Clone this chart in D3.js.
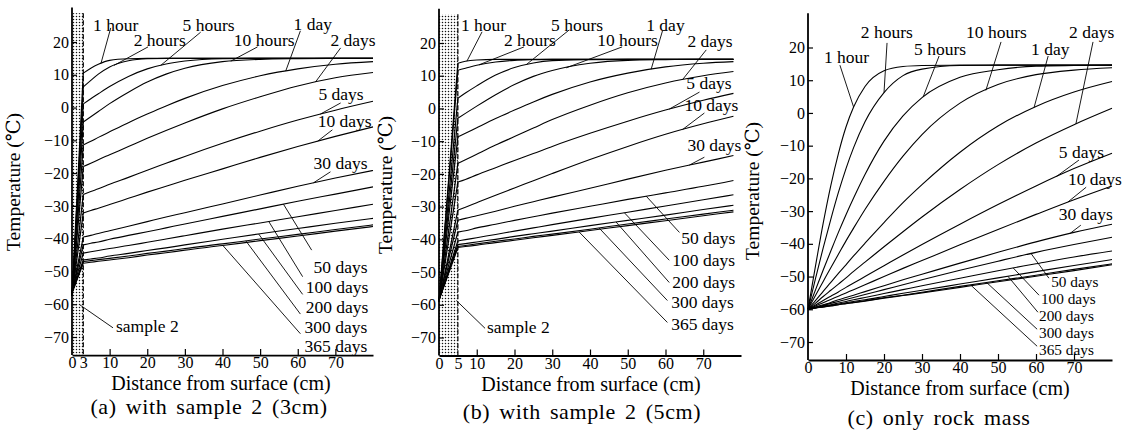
<!DOCTYPE html>
<html><head><meta charset="utf-8">
<script src="https://cdn.jsdelivr.net/npm/d3@7"></script>
<style>
body{margin:0;background:#fff;}
svg{display:block;font-family:"Liberation Serif","DejaVu Serif",serif;}
</style></head><body>
<svg id="chart" width="1134" height="440"></svg>
<script>
// ---------------- DATA ----------------
const seriesNames = ["1 hour","2 hours","5 hours","10 hours","1 day","2 days","5 days","10 days","30 days","50 days","100 days","200 days","300 days","365 days"];
const yTickValues = [20,10,0,-10,-20,-30,-40,-50,-60,-70];
const xTickLabelsA = [0,3,10,20,30,40,50,60,70];
const xTickLabelsB = [0,5,10,20,30,40,50,60,70];
const xTickLabelsC = [0,10,20,30,40,50,60,70];
const captions = ["(a) with sample 2 (3cm)","(b) with sample 2 (5cm)","(c) only rock mass"];
const xTitle = "Distance from surface (cm)";
const yTitle = "Temperature (℃)";
const sampleLabel = "sample 2";

// (a) sample 2, 3 cm — depth (cm) and temperature (°C)
const depthA = [0,3,5,7,10,15,20,25,30,40,50,60,70,80];
const tempsA = [
  [-57.5,10.5,12.0,13.2,14.4,14.9,15,15,15,15,15,15,15,15],
  [-57.5,6.3,8.3,10.2,12.4,14.3,14.9,15,15,15,15,15,15,15],
  [-57.5,1.1,2.7,4.2,6.4,9.5,11.8,13.3,14.2,14.9,15,15,15,15],
  [-57.5,-4.4,-2.8,-1.2,1.2,4.7,7.8,10.2,12.0,14.0,14.7,14.9,15,15],
  [-57.5,-11.4,-10.3,-9.1,-7.4,-4.6,-2.0,0.5,2.8,6.7,9.7,11.8,13.2,14.0],
  [-57,-18,-17,-15.9,-14.4,-11.9,-9.4,-7.0,-4.7,-0.4,3.3,6.6,9.1,10.7],
  [-57,-26.5,-25.6,-24.8,-23.4,-21.3,-19.1,-17.0,-14.9,-10.9,-7.2,-3.8,-0.8,1.9],
  [-57,-32.2,-31.4,-30.7,-29.6,-27.7,-25.8,-24.0,-22.2,-18.7,-15.2,-11.9,-8.8,-5.9],
  [-56.5,-39.5,-39.0,-38.4,-37.6,-36.2,-34.8,-33.4,-32.1,-29.4,-26.7,-24.0,-21.5,-19.2],
  [-56.5,-41.9,-41.4,-41.0,-40.2,-39.0,-37.9,-36.7,-35.5,-33.2,-30.9,-28.6,-26.4,-24.2],
  [-56.5,-44.4,-44.0,-43.6,-43.0,-42.1,-41.1,-40.1,-39.1,-37.1,-35.2,-33.3,-31.4,-29.5],
  [-56.5,-46.5,-46.2,-45.9,-45.3,-44.5,-43.6,-42.8,-41.9,-40.2,-38.5,-36.9,-35.3,-33.8],
  [-56.5,-47.0,-46.7,-46.4,-46.0,-45.3,-44.5,-43.8,-43.0,-41.6,-40.1,-38.7,-37.2,-35.8],
  [-56.5,-47.5,-47.2,-46.9,-46.5,-45.8,-45.0,-44.3,-43.5,-42.1,-40.6,-39.2,-37.7,-36.3]
];

// (b) sample 2, 5 cm
const depthB = [0,5,7,10,15,20,25,30,40,50,60,70,78];
const tempsB = [
  [-59,13.8,14.4,14.8,15,15,15,15,15,15,15,15,15],
  [-59,11.7,12.3,13.2,14.2,14.7,14.9,15,15,15,15,15,15],
  [-59,3.1,4.7,6.9,10.2,12.5,13.9,14.6,14.9,15,15,15,15],
  [-59,-3.0,-1.5,0.7,4.2,7.3,9.8,11.6,13.8,14.7,14.9,15,15],
  [-59,-8.7,-7.6,-5.9,-3.1,-0.5,2.0,4.3,8.1,10.8,12.7,13.8,14.3],
  [-59,-16.8,-15.7,-14.0,-11.2,-8.6,-6.0,-3.4,1.0,4.8,7.8,10.0,11.3],
  [-59,-22.5,-21.7,-20.3,-18.1,-15.9,-13.8,-11.6,-7.6,-3.9,-0.5,2.5,4.6],
  [-59,-31.1,-30.2,-28.8,-26.5,-24.3,-22.1,-19.9,-15.6,-11.6,-7.9,-4.7,-2.4],
  [-58.5,-34.2,-33.6,-32.8,-31.4,-29.9,-28.5,-27.1,-24.4,-21.6,-18.9,-16.4,-14.4],
  [-58.5,-37.8,-37.4,-36.5,-35.4,-34.2,-33.1,-32.0,-29.9,-27.8,-25.8,-23.8,-22.0],
  [-58.5,-40.5,-40.1,-39.5,-38.5,-37.5,-36.5,-35.5,-33.6,-31.7,-29.8,-27.9,-26.4],
  [-58.5,-41.6,-41.3,-40.8,-40.0,-39.1,-38.3,-37.5,-35.8,-34.2,-32.6,-30.9,-29.6],
  [-58.5,-42.2,-41.9,-41.4,-40.6,-39.9,-39.1,-38.4,-36.9,-35.3,-33.8,-32.3,-31.1],
  [-58.5,-42.5,-42.2,-41.8,-41.0,-40.3,-39.5,-38.8,-37.3,-35.8,-34.3,-32.8,-31.6]
];

// (c) only rock mass
const depthC = [0,2,4,6,8,10,12,15,20,25,30,40,50,60,70,80];
const tempsC = [
  [-60,-46.6,-33.7,-22.2,-12.4,-4.3,1.8,8.1,12.9,14.2,14.5,14.6,14.6,14.6,14.6,14.6],
  [-60,-50.5,-41.2,-32.5,-24.3,-17.0,-10.6,-2.7,6.2,11.4,13.4,14.5,14.6,14.6,14.6,14.6],
  [-60,-54.0,-48.0,-42.2,-36.5,-31.1,-26.0,-18.8,-8.6,-0.9,4.7,10.9,13.2,14.3,14.5,14.6],
  [-60,-55.7,-51.5,-47.3,-43.2,-39.1,-35.2,-29.5,-20.9,-13.2,-6.6,3.0,8.7,11.7,13.1,13.8],
  [-60,-57.3,-54.5,-51.8,-49.0,-46.4,-43.7,-39.8,-33.5,-27.4,-21.9,-12.0,-4.0,2.0,6.4,9.6],
  [-60,-58.1,-56.1,-54.2,-52.3,-50.4,-48.4,-45.6,-40.9,-36.3,-31.8,-23.4,-15.8,-9.2,-3.6,1.4],
  [-60,-58.7,-57.3,-56.0,-54.7,-53.3,-52.0,-50.0,-46.7,-43.4,-40.2,-34.0,-28.0,-22.3,-17.0,-12.3],
  [-60,-59.0,-58.0,-57.0,-56.0,-55.0,-54.0,-52.5,-50.0,-47.5,-45.1,-40.3,-35.6,-31.0,-26.5,-22.3],
  [-60,-59.3,-58.6,-57.9,-57.1,-56.4,-55.7,-54.6,-52.8,-51.0,-49.3,-45.9,-42.6,-39.4,-36.5,-34.0],
  [-60,-59.4,-58.8,-58.2,-57.6,-57.0,-56.4,-55.5,-54.0,-52.5,-51.0,-48.1,-45.3,-42.6,-40.2,-38.0],
  [-60,-59.5,-59.0,-58.6,-58.1,-57.6,-57.1,-56.4,-55.2,-54.0,-52.8,-50.5,-48.2,-46.1,-44.0,-42.2],
  [-60,-59.6,-59.2,-58.8,-58.4,-58.0,-57.6,-57.1,-56.1,-55.1,-54.2,-52.3,-50.4,-48.5,-46.6,-44.8],
  [-60,-59.6,-59.3,-58.9,-58.6,-58.2,-57.9,-57.4,-56.5,-55.7,-54.8,-53.0,-51.3,-49.6,-47.8,-46.1],
  [-60,-59.6,-59.3,-59.0,-58.6,-58.3,-58.0,-57.5,-56.6,-55.8,-55.0,-53.3,-51.6,-49.9,-48.2,-46.4]
];

// ---------------- LAYOUT (annotation placement in data units: label x/y, pointer start x/y, pointer end x on curve) ----------------
const annA = [
  [5.6,23.4,10.3,24.3,7.7],[16.4,18.8,20.2,18.5,11.1],[29.4,23.4,34.2,23.0,23.6],[43.0,18.8,49.3,18.5,42.2],
  [58.9,23.7,60.7,23.4,56.8],[68.7,18.8,71.4,18.2,64.7],[65.5,2.3,71.4,1.4,66.0],[65.3,-5.9,69.2,-6.8,65.3],
  [64.2,-18.7,68.7,-19.6,64.2],[64.2,-50.6,63.7,-43.5,56.2],[62.1,-56.6,61.3,-51.6,52.3],[62.1,-62.8,61.3,-57.0,49.6],
  [61.8,-68.9,60.7,-63.0,46.2],[61.8,-74.7,60.7,-69.0,40.1]
];
const annB = [
  [5.8,23.7,11.4,23.4,7.4],[17.2,19.1,22.5,18.8,10.6],[29.7,23.7,34.5,24.0,23.1],[41.9,19.1,48.5,18.8,33.7],
  [54.9,23.7,59.2,23.7,56.2],[65.8,18.8,70.8,17.9,64.5],[65.5,5.9,69.0,5.0,61.0],[65.0,-0.8,70.3,-1.4,64.5],
  [65.8,-13.1,70.3,-14.9,66.3],[64.2,-41.5,63.7,-37.9,54.9],[61.8,-48.3,61.0,-46.4,49.1],[61.8,-55.0,61.0,-53.2,46.9],
  [61.5,-61.1,60.5,-58.7,42.4],[61.5,-67.8,60.5,-65.4,37.1]
];
const annC = [
  [4.2,15.3,8.4,14.6,12.0],[13.9,22.9,20.8,21.4,20.0],[27.9,17.7,34.5,17.4,30.3],[41.6,22.9,50.8,21.7,46.8],
  [58.7,17.7,63.2,17.4,59.5],[68.7,22.9,75.0,21.7,70.5],[66.0,-13.8,71.3,-14.4,65.3],[68.4,-22.0,73.2,-22.7,68.4],
  [66.0,-32.7,71.8,-34.3,69.0],[64.0,-53.2,63.4,-50.5,58.7],[61.3,-58.4,60.8,-55.7,54.0],[60.8,-63.6,60.5,-60.9,52.6],
  [60.8,-68.8,60.3,-66.1,47.0],[60.8,-74.0,60.3,-71.3,43.0]
];

const panels = [
  {x0:72, x80:373, py20:42, pym70:337, sample:3, depth:depthA, temps:tempsA, xticks:xTickLabelsA, ann:annA, lowFont:17.5,
   sampleAnn:[11.7,-68.5,10.9,-67.2,2.1,-60.2], yT:[20,182], xT:[221,390], cap:[209,414]},
  {x0:439, x80:741, py20:43, pym70:337.5, sample:5, depth:depthB, temps:tempsB, xticks:xTickLabelsB, ann:annB, lowFont:17.5,
   sampleAnn:[12.7,-68.7,12.2,-67.2,4.6,-58.7], yT:[392,185], xT:[591,391], cap:[582,419]},
  {x0:808, x80:1112, py20:47.5, pym70:342, sample:0, depth:depthC, temps:tempsC, xticks:xTickLabelsC, ann:annC, lowFont:15.3,
   sampleAnn:null, yT:[759,191], xT:[960,395], cap:[939,425]}
];

// ---------------- DRAW ----------------
const svg = d3.select("#chart");
const defs = svg.append("defs");
const pat = defs.append("pattern").attr("id","dots").attr("width",3).attr("height",3).attr("patternUnits","userSpaceOnUse");
pat.append("rect").attr("width",3).attr("height",3).attr("fill","#fff");
pat.append("circle").attr("cx",1.5).attr("cy",1.5).attr("r",0.75).attr("fill","#111");

const fmt = d => d < 0 ? "\u2212" + Math.abs(d) : String(d);

panels.forEach((p, pi) => {
  const x = d3.scaleLinear().domain([0,80]).range([p.x0,p.x80]);
  const y = d3.scaleLinear().domain([-70,20]).range([p.pym70,p.py20]);
  const yAx = d3.scaleLinear().domain([-75.5,30.5]).range([y(-75.5),y(30.5)]);
  const g = svg.append("g");

  // sample band
  if (p.sample > 0) {
    g.append("rect").attr("x",x(0)).attr("y",y(28.8)).attr("width",x(p.sample)-x(0)).attr("height",y(-75.5)-y(28.8))
      .attr("fill","url(#dots)");
    g.append("line").attr("x1",x(p.sample)).attr("x2",x(p.sample)).attr("y1",y(28.8)).attr("y2",y(-75.5))
      .attr("stroke","#000").attr("stroke-width",1.2).attr("stroke-dasharray","5,2");
  }

  // curves
  const lineRock = d3.line().x(d=>x(d[0])).y(d=>y(d[1])).curve(d3.curveMonotoneX);
  const lineLin = d3.line().x(d=>x(d[0])).y(d=>y(d[1]));
  p.temps.forEach(row => {
    const pts = p.depth.map((dd,i)=>[dd,row[i]]);
    if (p.sample > 0) {
      g.append("path").attr("d", lineLin(pts.filter(d=>d[0] <= p.sample)))
        .attr("fill","none").attr("stroke","#000").attr("stroke-width",1.2);
      g.append("path").attr("d", lineRock(pts.filter(d=>d[0] >= p.sample)))
        .attr("fill","none").attr("stroke","#000").attr("stroke-width",1.1);
    } else {
      g.append("path").attr("d", lineRock(pts)).attr("fill","none").attr("stroke","#000").attr("stroke-width",1.1);
    }
  });

  // axes
  const yAxis = d3.axisLeft(yAx).tickValues(yTickValues).tickFormat(fmt).tickSize(-5).tickSizeOuter(0).tickPadding(3);
  const gy = g.append("g").attr("transform",`translate(${x(0)},0)`).call(yAxis);
  const xAxis = d3.axisBottom(x.copy()).tickValues(p.xticks).tickFormat(d=>d).tickSize(-6).tickSizeOuter(0).tickPadding(2);
  const gx = g.append("g").attr("transform",`translate(0,${y(-75.5)})`).call(xAxis);
  [gy,gx].forEach(ax => {
    ax.attr("font-family",null).attr("font-size",null);
    ax.select(".domain").attr("stroke","#000").attr("stroke-width",1.8);
    ax.selectAll(".tick line").attr("stroke","#000").attr("stroke-width",1.2);
    ax.selectAll(".tick text").attr("fill","#000").style("font-size","16px");
  });
  gx.selectAll(".tick").filter(d=>d<10).select("line").remove();
  gy.select(".domain").attr("d",`M0,${yAx(-75.5)}V${yAx(30.5)}`);

  // annotations
  const interp = (row, xv) => {
    for (let i=1;i<p.depth.length;i++){
      if (xv <= p.depth[i]) { const t=(xv-p.depth[i-1])/(p.depth[i]-p.depth[i-1]); return row[i-1]+t*(row[i]-row[i-1]); }
    }
    return row[row.length-1];
  };
  p.ann.forEach((a,si) => {
    const ey = interp(p.temps[si], a[4]);
    g.append("line").attr("x1",x(a[2])).attr("y1",y(a[3])).attr("x2",x(a[4])).attr("y2",y(ey))
      .attr("stroke","#000").attr("stroke-width",0.9);
    g.append("text").attr("x",x(a[0])).attr("y",y(a[1])).text(seriesNames[si])
      .style("font-size", (si >= 9 ? p.lowFont : 17.5) + "px");
  });
  if (p.sampleAnn) {
    const s = p.sampleAnn;
    g.append("line").attr("x1",x(s[2])).attr("y1",y(s[3])).attr("x2",x(s[4])).attr("y2",y(s[5]))
      .attr("stroke","#000").attr("stroke-width",0.9);
    g.append("text").attr("x",x(s[0])).attr("y",y(s[1])).text(sampleLabel).style("font-size","17.5px");
  }

  // titles
  g.append("text").attr("transform",`translate(${p.yT[0]},${p.yT[1]}) rotate(-90)`).attr("text-anchor","middle")
    .style("font-size","19.5px").text(yTitle);
  g.append("text").attr("x",p.xT[0]).attr("y",p.xT[1]).attr("text-anchor","middle").style("font-size","20px").text(xTitle);
  g.append("text").attr("x",p.cap[0]).attr("y",p.cap[1]).attr("text-anchor","middle").style("font-size","22px")
    .style("letter-spacing","0.6px").style("word-spacing","3px").text(captions[pi]);
});
</script>
</body></html>
